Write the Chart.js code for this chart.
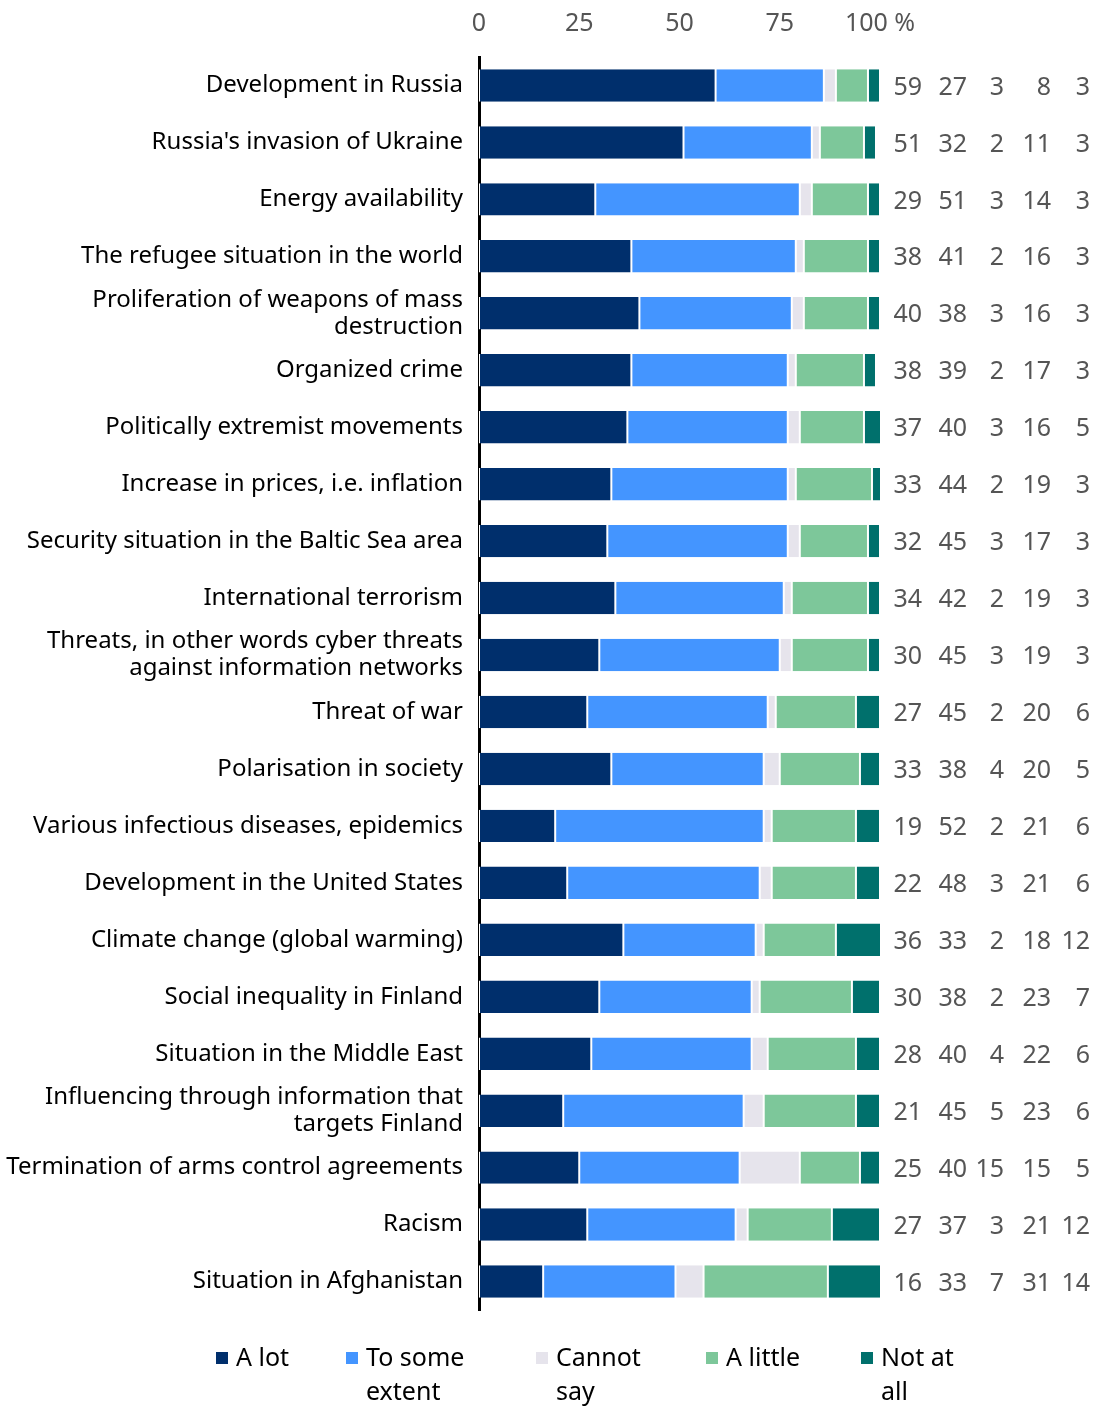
<!DOCTYPE html>
<html>
<head>
<meta charset="utf-8">
<script src="https://cdn.jsdelivr.net/npm/chart.js@4"></script>
<style>
  html, body { margin: 0; padding: 0; background: #fff; }
  #wrap { width: 1100px; height: 1407px; }
</style>
</head>
<body>
<div id="wrap"><canvas id="chart" width="1100" height="1407"></canvas></div>
<script>
var categories = [
  "Development in Russia",
  "Russia's invasion of Ukraine",
  "Energy availability",
  "The refugee situation in the world",
  ["Proliferation of weapons of mass", "destruction"],
  "Organized crime",
  "Politically extremist movements",
  "Increase in prices, i.e. inflation",
  "Security situation in the Baltic Sea area",
  "International terrorism",
  ["Threats, in other words cyber threats", "against information networks"],
  "Threat of war",
  "Polarisation in society",
  "Various infectious diseases, epidemics",
  "Development in the United States",
  "Climate change (global warming)",
  "Social inequality in Finland",
  "Situation in the Middle East",
  ["Influencing through information that", "targets Finland"],
  "Termination of arms control agreements",
  "Racism",
  "Situation in Afghanistan"
];
var aLot        = [59, 51, 29, 38, 40, 38, 37, 33, 32, 34, 30, 27, 33, 19, 22, 36, 30, 28, 21, 25, 27, 16];
var toSomeExt   = [27, 32, 51, 41, 38, 39, 40, 44, 45, 42, 45, 45, 38, 52, 48, 33, 38, 40, 45, 40, 37, 33];
var cannotSay   = [3, 2, 3, 2, 3, 2, 3, 2, 3, 2, 3, 2, 4, 2, 3, 2, 2, 4, 5, 15, 3, 7];
var aLittle     = [8, 11, 14, 16, 16, 17, 16, 19, 17, 19, 19, 20, 20, 21, 21, 18, 23, 22, 23, 15, 21, 31];
var notAtAll    = [3, 3, 3, 3, 3, 3, 5, 3, 3, 3, 3, 6, 5, 6, 6, 12, 7, 6, 6, 5, 12, 14];
var seriesNames = [["A lot"], ["To some", "extent"], ["Cannot", "say"], ["A little"], ["Not at", "all"]];
var xTicks = [0, 25, 50, 75, 100];

var colors = ["#002f6c", "#4495ff", "#e6e4ec", "#7dc79a", "#00706c"];
var FONT = "'Noto Sans', sans-serif";
var allSeries = [aLot, toSomeExt, cannotSay, aLittle, notAtAll];

var datasets = allSeries.map(function (vals, i) {
  return {
    label: seriesNames[i].join(" "),
    data: vals,
    backgroundColor: colors[i],
    borderColor: "#ffffff",
    borderWidth: { left: 1, right: 1, top: 0, bottom: 0 },
    borderSkipped: false,
    barPercentage: 0.57,
    categoryPercentage: 1
  };
});

// numbers column on the right of the bars
var valueColumns = {
  id: "valueColumns",
  afterDatasetsDraw: function (chart) {
    var ctx = chart.ctx, y = chart.scales.y;
    var colRight = [922, 967, 1004, 1051, 1090];
    ctx.save();
    ctx.font = "25px " + FONT;
    ctx.fillStyle = "#555555";
    ctx.textAlign = "right";
    ctx.textBaseline = "middle";
    for (var i = 0; i < categories.length; i++) {
      var py = y.getPixelForValue(i) + 2;
      for (var s = 0; s < allSeries.length; s++) {
        ctx.fillText(String(allSeries[s][i]), colRight[s], py);
      }
    }
    ctx.restore();
  }
};

// legend with wrapped labels under the chart
var bottomLegend = {
  id: "bottomLegend",
  afterDraw: function (chart) {
    var ctx = chart.ctx;
    var boxX = [216, 346, 536, 706, 861];
    ctx.save();
    ctx.font = "25px " + FONT;
    ctx.textBaseline = "middle";
    ctx.textAlign = "left";
    for (var i = 0; i < seriesNames.length; i++) {
      ctx.fillStyle = colors[i];
      ctx.fillRect(boxX[i], 1352, 12, 12);
      ctx.fillStyle = "#000000";
      for (var l = 0; l < seriesNames[i].length; l++) {
        ctx.fillText(seriesNames[i][l], boxX[i] + 20, 1359 + l * 34);
      }
    }
    ctx.restore();
  }
};

new Chart(document.getElementById("chart"), {
  type: "bar",
  data: { labels: categories, datasets: datasets },
  plugins: [valueColumns, bottomLegend],
  options: {
    indexAxis: "y",
    responsive: false,
    animation: false,
    layout: { padding: { left: 0, right: 220, top: 0, bottom: 97 } },
    plugins: { legend: { display: false }, tooltip: { enabled: false } },
    scales: {
      x: {
        position: "top",
        stacked: true,
        min: 0,
        max: 100,
        afterBuildTicks: function (scale) {
          scale.ticks = xTicks.map(function (v) { return { value: v }; });
        },
        afterFit: function (scale) { scale.height = 57; },
        grid: { display: false, drawTicks: false },
        border: { display: false },
        ticks: {
          padding: 18,
          color: "#555555",
          font: { family: FONT, size: 25 },
          maxRotation: 0,
          callback: function (v) { return v === 100 ? "100 %" : v; }
        }
      },
      y: {
        stacked: true,
        z: 1,
        afterFit: function (scale) { scale.width = 479; },
        grid: { display: false, drawTicks: false },
        border: { display: true, color: "#000000", width: 3 },
        ticks: {
          padding: 16,
          color: "#000000",
          autoSkip: false,
          font: { family: FONT, size: 24, lineHeight: 1.12 }
        }
      }
    }
  }
});
</script>
</body>
</html>
